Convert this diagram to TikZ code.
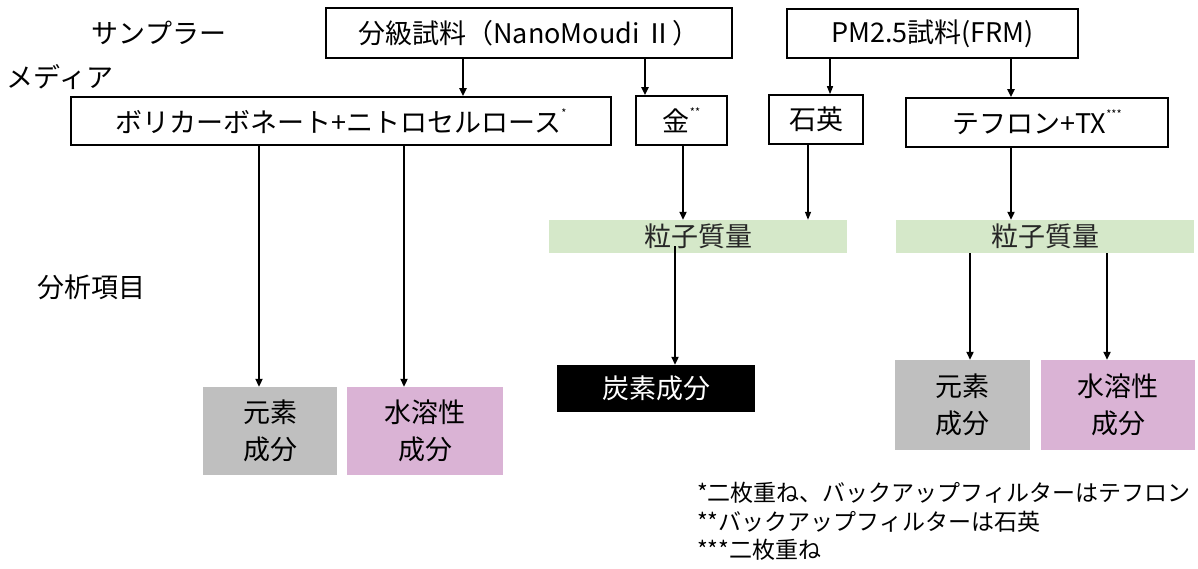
\documentclass[tikz,border=0pt]{standalone}
\usepackage{fontspec}
\setmainfont{Noto Sans CJK JP}
\usetikzlibrary{arrows.meta}
\definecolor{gbox}{HTML}{D5E8C9}
\definecolor{graybox}{HTML}{BFBFBF}
\definecolor{pinkbox}{HTML}{DAB3D5}
\newcommand{\mainsz}{\fontsize{27}{37}\selectfont}
\newcommand{\notesz}{\fontsize{23}{28}\selectfont}
\newcommand{\supast}[1]{\raisebox{0.55em}{\fontsize{11}{11}\selectfont #1}}
\begin{document}
\begin{tikzpicture}[x=1pt,y=-1pt,
  lab/.style={font=\mainsz, inner sep=0pt},
  srcbox/.style={draw, line width=2pt, font=\mainsz, inner sep=0pt},
  medbox/.style={draw, line width=1.6pt, font=\mainsz, inner sep=0pt},
  massbox/.style={fill=gbox, font=\mainsz, text=black!85, inner sep=0pt, minimum width=298pt, minimum height=33pt},
  resbox/.style={font=\mainsz, inner sep=0pt, align=center},
  arr/.style={line width=2.2pt, -{Triangle[length=8pt,width=7pt]}},
  thinarr/.style={line width=1.3pt, -{Triangle[length=8pt,width=6pt]}},
  note/.style={font=\notesz, inner sep=0pt, anchor=west}
]
\useasboundingbox (0,0) rectangle (1198,569);
% labels
\node[lab] (sampler) at (159,33) {サンプラー};
\node[lab] (media) at (60,77) {メディア};
\node[lab] (bunseki) at (91,287) {分析項目};
% samplers
\node[srcbox, minimum width=406pt, minimum height=50pt] (A) at (529,33) {分級試料（NanoMoudi Ⅱ）};
\node[srcbox, minimum width=291pt, minimum height=49pt] (B) at (932.5,33.5) {PM2.5試料(FRM)};
% media
\node[medbox, minimum width=540pt, minimum height=48pt] (C) at (341,121) {ボリカーボネート+ニトロセルロース\supast{*}};
\node[medbox, minimum width=91pt, minimum height=49pt] (D) at (681.5,120.5) {金\supast{**}};
\node[medbox, minimum width=94pt, minimum height=49pt] (E) at (816,119.5) {石英};
\node[medbox, minimum width=262pt, minimum height=49pt] (F) at (1037,122.5) {テフロン+TX\supast{***}};
% mass
\node[massbox] (G1) at (698,236.5) {粒子質量};
\node[massbox] (G2) at (1045,236.5) {粒子質量};
% results
\node[resbox, fill=black, text=white, minimum width=198pt, minimum height=47pt] (K) at (656,388.5) {炭素成分};
\node[resbox, fill=graybox, minimum width=134pt, minimum height=88pt] (L1) at (270,431) {元素\\成分};
\node[resbox, fill=pinkbox, minimum width=156pt, minimum height=88pt] (L2) at (425,431) {水溶性\\成分};
\node[resbox, fill=graybox, minimum width=135pt, minimum height=90pt] (R1) at (962.5,405) {元素\\成分};
\node[resbox, fill=pinkbox, minimum width=154pt, minimum height=90pt] (R2) at (1118,405) {水溶性\\成分};
% footnotes
\node[note] (n1) at (697,493) {*二枚重ね、バックアップフィルターはテフロン};
\node[note] (n2) at (697,522) {**バックアップフィルターは石英};
\node[note] (n3) at (697,550) {***二枚重ね};
% x positions of connectors
\coordinate (xAC) at (463,0);
\coordinate (xAD) at (645,0);
\coordinate (xBE) at (830,0);
\coordinate (xBF) at (1011,0);
\coordinate (xC1) at (259,0);
\coordinate (xC2) at (404,0);
\coordinate (xDG) at (683,0);
\coordinate (xEG) at (808,0);
\coordinate (xGK) at (675,0);
\coordinate (xR1) at (970,0);
\coordinate (xR2) at (1107,0);
% connectors
\draw[arr] (A.south -| xAC) -- (C.north -| xAC);
\draw[arr] (A.south -| xAD) -- (D.north -| xAD);
\draw[thinarr] (B.south -| xBE) -- (E.north -| xBE);
\draw[arr] (B.south -| xBF) -- (F.north -| xBF);
\draw[arr] (C.south -| xC1) -- (L1.north -| xC1);
\draw[arr] (C.south -| xC2) -- (L2.north -| xC2);
\draw[arr] (D.south -| xDG) -- (G1.north -| xDG);
\draw[thinarr] (E.south -| xEG) -- (G1.north -| xEG);
\draw[arr] (F.south -| xBF) -- (G2.north -| xBF);
\draw[arr] ([yshift=7pt]G1.south -| xGK) -- (K.north -| xGK);
\draw[arr] (G2.south -| xR1) -- (R1.north -| xR1);
\draw[arr] (G2.south -| xR2) -- (R2.north -| xR2);
\end{tikzpicture}
\end{document}
